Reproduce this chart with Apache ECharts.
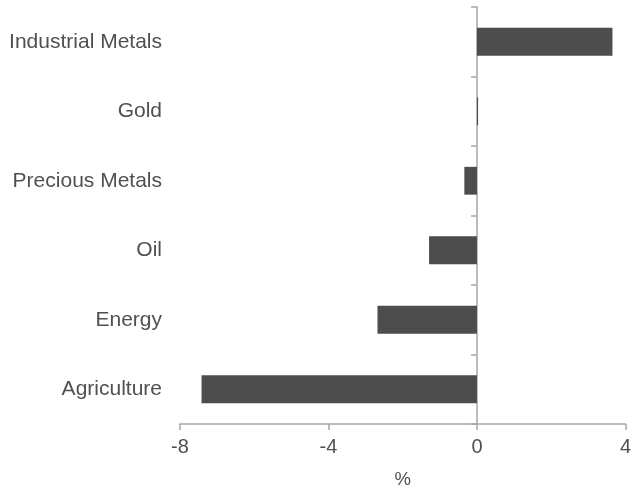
<!DOCTYPE html>
<html><head><meta charset="utf-8">
<script src="https://cdn.jsdelivr.net/npm/echarts@6/dist/echarts.min.js"></script>
<style>html,body{margin:0;padding:0;background:#fff}#c{width:634px;height:494px}</style>
</head><body><div id="c"></div>
<script>
const categories = ['Agriculture', 'Energy', 'Oil', 'Precious Metals', 'Gold', 'Industrial Metals'];
const values = [-7.42, -2.68, -1.29, -0.34, 0.03, 3.65];
const xTicks = [-8, -4, 0, 4];

const axisColor = '#a6a6a6';
const textColor = '#505050';
const font = 'Liberation Sans, Arial, sans-serif';

const chart = echarts.init(document.getElementById('c'), null, {renderer: 'canvas'});
chart.setOption({
  animation: false,
  grid: {left: 180, right: 4, top: 7, bottom: 66, containLabel: false},
  xAxis: {
    type: 'value', min: xTicks[0], max: xTicks[xTicks.length - 1], interval: 4,
    name: '%', nameLocation: 'middle', nameGap: 46,
    nameTextStyle: {color: textColor, fontSize: 18.5, fontFamily: font},
    axisLine: {show: true, onZero: false, lineStyle: {color: axisColor, width: 1.5}},
    axisTick: {show: true, length: 6, lineStyle: {color: axisColor, width: 1.5}},
    axisLabel: {color: textColor, fontSize: 20, fontFamily: font, margin: 13},
    splitLine: {show: false}
  },
  yAxis: [{
    type: 'category', data: categories, position: 'left',
    axisLine: {show: false, onZero: false},
    axisTick: {show: false},
    axisLabel: {color: textColor, fontSize: 21, fontFamily: font, margin: 18},
    splitLine: {show: false}
  }, {
    type: 'category', data: categories, position: 'left',
    axisLine: {show: true, onZero: true, lineStyle: {color: axisColor, width: 1.5}},
    axisTick: {show: true, length: 6, alignWithLabel: false, lineStyle: {color: axisColor, width: 1.5}},
    axisLabel: {show: false},
    splitLine: {show: false}
  }],
  series: [{
    type: 'bar', data: values, yAxisIndex: 0, barWidth: '40%',
    itemStyle: {color: '#4d4d4d'}
  }]
});
</script></body></html>
